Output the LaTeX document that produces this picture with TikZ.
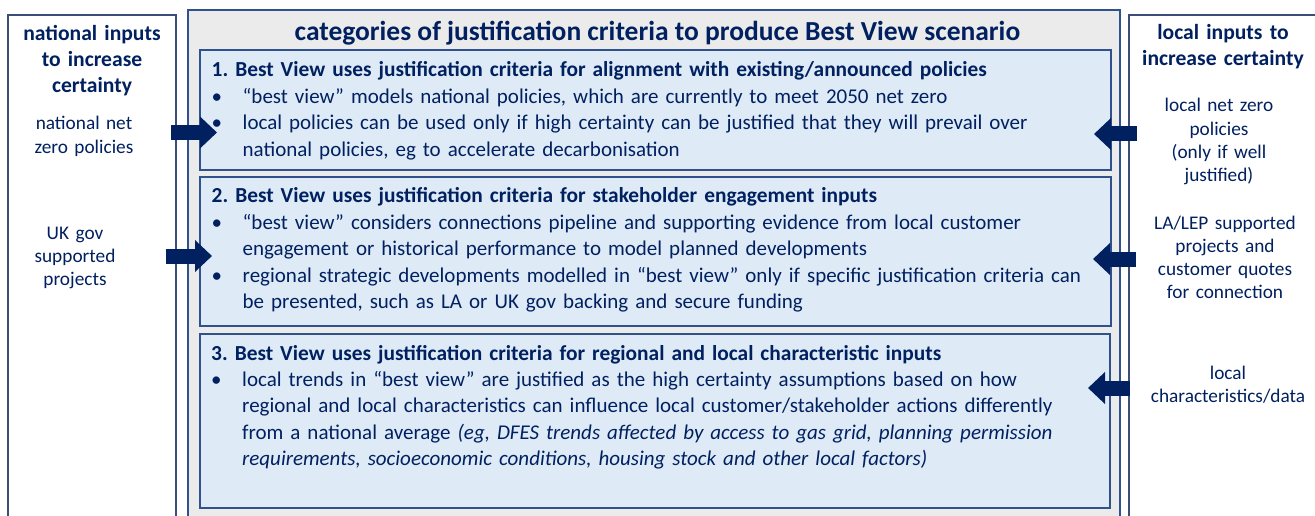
\documentclass[tikz,border=0pt]{standalone}
\usepackage{fontspec}
\setmainfont{Carlito}
\usetikzlibrary{arrows.meta}

\definecolor{navy}{RGB}{0,32,96}
\definecolor{boxline}{RGB}{47,82,143}
\definecolor{sideline}{RGB}{58,78,120}
\definecolor{catfill}{RGB}{222,235,247}
\definecolor{panelfill}{RGB}{235,235,235}

\newcommand\bpt{\makebox[31pt][l]{\textbullet}}
\newcommand\bind{\hspace*{31pt}}
\newcommand\cathead[1]{{\fontsize{21.4}{26.4}\selectfont\bfseries #1}}
\frenchspacing

\tikzset{
  sidebox/.style={draw=sideline, line width=1.3pt, fill=white},
  panel/.style={draw=boxline, line width=1.3pt, fill=panelfill},
  catbox/.style={draw=boxline, line width=1.3pt, fill=catfill},
  bodytext/.style={anchor=base west, inner sep=0pt, text=navy, text width=1000pt, align=left,
    font=\fontsize{21}{26.4}\selectfont},
  sidehead/.style={anchor=base, inner sep=0pt, text=navy, text width=170pt, align=center,
    font=\fontsize{21.6}{26}\selectfont\bfseries},
  sidetext/.style={anchor=base, inner sep=0pt, text=navy, text width=170pt, align=center,
    font=\fontsize{19.3}{23.3}\selectfont},
  blockarrow/.style={draw=navy, line width=15pt, -{Triangle[length=17pt,width=31pt]}}
}

\begin{document}
\begin{tikzpicture}[x=1pt,y=-1pt]
\clip (0,0) rectangle (1315,516);
\fill[white] (0,0) rectangle (1315,516);

% frames
\draw[sidebox] (8,15) rectangle (176,540);
\draw[panel] (188,10) rectangle (1120,540);
\draw[sidebox] (1129,15) rectangle (1340,540);
\draw[catbox] (200,50) rectangle (1111,170);
\draw[catbox] (200,177) rectangle (1111,326);
\draw[catbox] (200,334) rectangle (1110,508);

% titles
\node[anchor=base, inner sep=0pt, text=navy, font=\fontsize{27.5}{30}\selectfont\bfseries]
  (title) at (657.5,41) {categories of justification criteria to produce Best View scenario};
\node[sidehead] (nathead) at (92,41) {national inputs\\to increase\\certainty};
\node[sidehead] (lochead) at (1223,40) {local inputs to\\increase certainty};

% side inputs
\node[sidetext] (natA) at (84,130) {national net\\zero policies};
\node[sidetext] (natB) at (75,239) {UK gov\\supported\\projects};
\node[sidetext] (locA) at (1219,112) {local net zero\\policies\\(only if well\\justified)};
\node[sidetext] (locB) at (1225,229) {LA/LEP supported\\projects and\\customer quotes\\for connection};
\node[sidetext] (locC) at (1228,379) {local\\characteristics/data};

% category texts
\node[bodytext] (catA) at (211.5,77) {\cathead{1. Best View uses justification criteria for alignment with existing/announced policies}\\
  \bpt “best view” models national policies, which are currently to meet 2050 net zero\\
  \bpt local policies can be used only if high certainty can be justified that they will prevail over\\
  \bind national policies, eg to accelerate decarbonisation};
\node[bodytext] (catB) at (211.5,203) {\cathead{2. Best View uses justification criteria for stakeholder engagement inputs}\\
  \bpt “best view” considers connections pipeline and supporting evidence from local customer\\
  \bind engagement or historical performance to model planned developments\\
  \bpt regional strategic developments modelled in “best view” only if specific justification criteria can\\
  \bind be presented, such as LA or UK gov backing and secure funding};
\node[bodytext] (catC) at (211,360) {\cathead{3. Best View uses justification criteria for regional and local characteristic inputs}\\
  \bpt local trends in “best view” are justified as the high certainty assumptions based on how\\
  \bind regional and local characteristics can influence local customer/stakeholder actions differently\\
  \bind from a national average \textit{(eg, DFES trends affected by access to gas grid, planning permission}\\
  \bind \textit{requirements, socioeconomic conditions, housing stock and other local factors)}};

% arrows
\coordinate (natAs) at (171,132.5);
\coordinate (natAe) at (217,132.5);
\coordinate (natBs) at (166,256);
\coordinate (natBe) at (212,256);
\coordinate (locAs) at (1137,134);
\coordinate (locAe) at (1094,134);
\coordinate (locBs) at (1136,259);
\coordinate (locBe) at (1093,259);
\coordinate (locCs) at (1130,388);
\coordinate (locCe) at (1088,388);
\draw[blockarrow] (natAs) -- (natAe);
\draw[blockarrow] (natBs) -- (natBe);
\draw[blockarrow] (locAs) -- (locAe);
\draw[blockarrow] (locBs) -- (locBe);
\draw[blockarrow] (locCs) -- (locCe);
\end{tikzpicture}
\end{document}
